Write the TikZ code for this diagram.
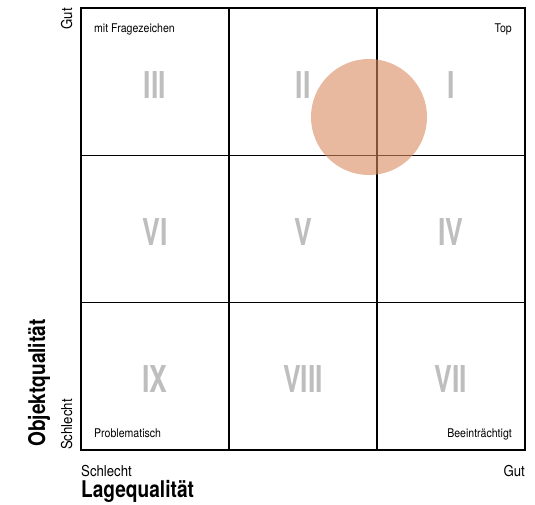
\documentclass[tikz,border=0pt]{standalone}
\usepackage{fontspec}
\setmainfont{TeX Gyre Heros}[FakeStretch=0.88]
\newfontfamily\axisfont{TeX Gyre Heros}[FakeStretch=0.83]
\newfontfamily\romanfont{TeX Gyre Heros}[FakeStretch=0.72]
\usetikzlibrary{positioning}
\definecolor{numgray}{RGB}{190,190,190}
\definecolor{spot}{RGB}{217,138,93}

\begin{document}
\begin{tikzpicture}[
        x=1pt, y=-1pt,
        node distance=0pt,
        cell/.style={rectangle, draw, line width=1.3pt, minimum width=148pt, minimum height=147.3pt, inner sep=0pt, outer sep=0pt, text height=33pt, text depth=0pt, text=numgray, font=\romanfont\bfseries\fontsize{37}{37}\selectfont},
        corner/.style={inner sep=0pt, font=\fontsize{12}{12}\selectfont},
        tick/.style={inner sep=0pt, font=\fontsize{15}{15}\selectfont},
        axis/.style={inner sep=0pt, font=\axisfont\bfseries\fontsize{23}{23}\selectfont}
    ]
    \useasboundingbox (0,0) rectangle (535,504);

    % 3x3 portfolio grid
    \node [cell, anchor=north west] (qIII) at (81,8) {III};
    \node [cell, right=of qIII] (qII) {II};
    \node [cell, right=of qII] (qI) {I};
    \node [cell, below=of qIII] (qVI) {VI};
    \node [cell, right=of qVI] (qV) {V};
    \node [cell, right=of qV] (qIV) {IV};
    \node [cell, below=of qVI] (qIX) {IX};
    \node [cell, right=of qIX] (qVIII) {VIII};
    \node [cell, right=of qVIII] (qVII) {VII};

    % corner labels
    \node [corner, anchor=base west] (frage) at (94,32) {mit Fragezeichen};
    \node [corner, anchor=base east] (top) at (512,32) {Top};
    \node [corner, anchor=base west] (probl) at (94,437) {Problematisch};
    \node [corner, anchor=base east] (beein) at (512,437) {Beeinträchtigt};

    % position marker
    \node [circle, fill=spot, fill opacity=0.6, minimum size=116pt, inner sep=0pt] (pos) at (369,117) {};

    % axes
    \node [tick, rotate=90, anchor=base east] (ygut) at (72,8) {Gut};
    \node [tick, rotate=90, anchor=base west] (yschlecht) at (72,450) {Schlecht};
    \node [axis, rotate=90, anchor=base west] (yaxis) at (45,447) {Objektqualität};
    \node [tick, anchor=base west] (xschlecht) at (81,476) {Schlecht};
    \node [tick, anchor=base east] (xgut) at (525,476) {Gut};
    \node [axis, anchor=base west] (xaxis) at (81,497) {Lagequalität};
\end{tikzpicture}
\end{document}
